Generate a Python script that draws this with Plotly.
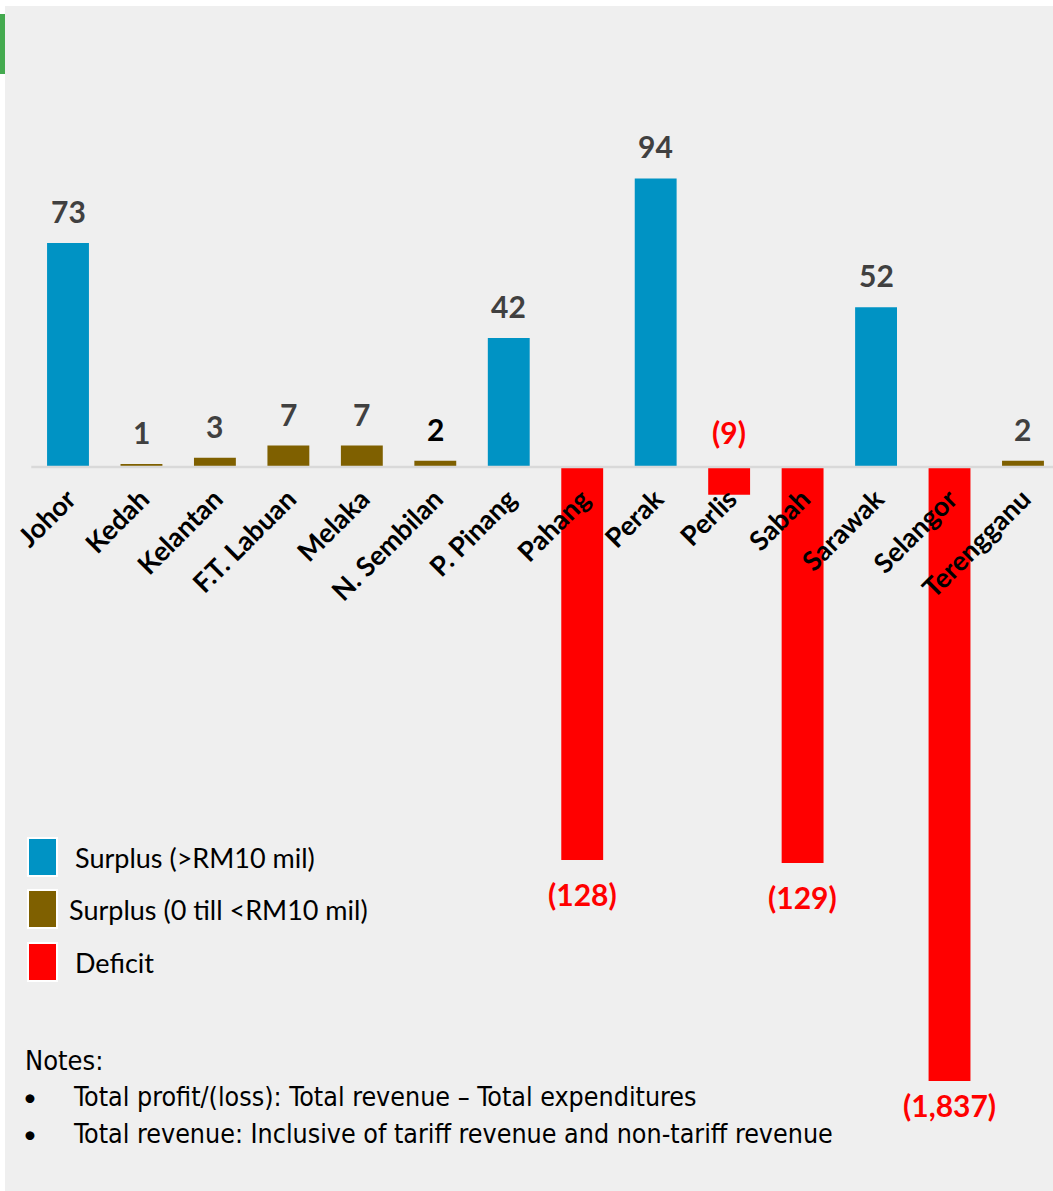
import plotly.graph_objects as go

# ---------------- data ----------------
states = ["Johor", "Kedah", "Kelantan", "F.T. Labuan", "Melaka", "N. Sembilan",
          "P. Pinang", "Pahang", "Perak", "Perlis", "Sabah", "Sarawak",
          "Selangor", "Terengganu"]
profit = [73, 1, 3, 7, 7, 2, 42, -128, 94, -9, -129, 52, -1837, 2]
value_labels = ["73", "1", "3", "7", "7", "2", "42", "(128)", "94", "(9)",
                "(129)", "52", "(1,837)", "2"]
legend_labels = ["Surplus (>RM10 mil)", "Surplus (0 till <RM10 mil)", "Deficit"]
notes_title = "Notes:"
notes = ["Total profit/(loss): Total revenue \u2013 Total expenditures",
         "Total revenue: Inclusive of tariff revenue and non-tariff revenue"]

# ---------------- style ----------------
W, H = 1053, 1191
BLUE, BROWN, RED = "#0093C4", "#7F6000", "#FF0000"
BG = "#EFEFEF"
AXIS_BREAK = -200          # very large deficits are drawn cut at the axis break
FONT = "Lato, Carlito, Calibri, sans-serif"
NARROW = "Liberation Sans Narrow, DejaVu Sans Condensed, Arial Narrow, sans-serif"


def px(x):
    return x / W


def py(y):
    return 1 - y / H


def colour(v):
    if v < 0:
        return RED
    if v > 10:
        return BLUE
    return BROWN


bar_colors = [colour(v) for v in profit]
drawn = [max(v, AXIS_BREAK) for v in profit]

fig = go.Figure()
fig.add_trace(go.Bar(x=states, y=drawn, marker=dict(color=bar_colors, line_width=0),
                     width=0.57, hoverinfo="skip", showlegend=False))

annotations = []
for s, v, d, lab in zip(states, profit, drawn, value_labels):
    if v >= 0:
        col = "#000000" if s == "N. Sembilan" else "#404040"
        annotations.append(dict(x=s, y=d, text=f"<b>{lab}</b>", showarrow=False,
                                yanchor="middle", yshift=32,
                                font=dict(family=FONT, size=30, color=col)))
    elif v > -50:
        annotations.append(dict(x=s, y=0, text=f"<b>{lab}</b>", showarrow=False,
                                yanchor="middle", yshift=35,
                                font=dict(family=FONT, size=30, color=RED)))
    else:
        shift = -24 if v < AXIS_BREAK else -34
        annotations.append(dict(x=s, y=d, text=f"<b>{lab}</b>", showarrow=False,
                                yanchor="middle", yshift=shift,
                                font=dict(family=FONT, size=30, color=RED)))

shapes = [
    dict(type="rect", xref="paper", yref="paper", x0=px(5), x1=px(W), y0=py(H), y1=py(6),
         fillcolor=BG, line_width=0, layer="below"),
    dict(type="rect", xref="paper", yref="paper", x0=px(0), x1=px(5), y0=py(74), y1=py(14),
         fillcolor="#44AA4F", line_width=0, layer="below"),
    dict(type="line", xref="x", yref="y", x0=-0.5, x1=len(states) - 0.5, y0=0, y1=0,
         line=dict(color="#D9D9D9", width=2.5), layer="above"),
]

# custom legend
leg_rows = [(838, 876, BLUE, 73), (890, 928, BROWN, 67), (943, 981, RED, 73)]
for (y0, y1, c, tx), lab in zip(leg_rows, legend_labels):
    shapes.append(dict(type="rect", xref="paper", yref="paper", x0=px(28), x1=px(57),
                       y0=py(y1), y1=py(y0), fillcolor=c,
                       line=dict(color="white", width=2), layer="above"))
    annotations.append(dict(xref="paper", yref="paper", x=px(tx), y=py((y0 + y1) / 2),
                            text=lab, showarrow=False, xanchor="left", yanchor="middle",
                            font=dict(family=FONT, size=27, color="#000000")))

# notes
annotations.append(dict(xref="paper", yref="paper", x=px(23), y=py(1060), text=notes_title,
                        showarrow=False, xanchor="left", yanchor="middle",
                        font=dict(family=NARROW, size=27, color="#000000")))
for i, n in enumerate(notes):
    yy = 1096 + i * 37
    annotations.append(dict(xref="paper", yref="paper", x=px(21), y=py(yy), text="\u2022",
                            showarrow=False, xanchor="left", yanchor="middle",
                            font=dict(family=FONT, size=24, color="#000000")))
    annotations.append(dict(xref="paper", yref="paper", x=px(71), y=py(yy), text=n,
                            showarrow=False, xanchor="left", yanchor="middle",
                            font=dict(family=NARROW, size=26.6, color="#000000")))

# axis ranges so that category centres / values sit at the picture's pixels
step = 73.46
x0 = -68 / step
x1 = x0 + W / step
k = 3.07
y_top = 467 / k
y_bot = -(H - 467) / k

fig.update_layout(
    width=W, height=H,
    margin=dict(l=0, r=0, t=0, b=0),
    paper_bgcolor="white", plot_bgcolor="rgba(0,0,0,0)",
    shapes=shapes, annotations=annotations,
    xaxis=dict(range=[x0, x1], anchor="free", position=py(467), tickangle=-45,
               tickfont=dict(family=FONT, size=27, color="#000000"),
               showline=False, showgrid=False, zeroline=False, ticks="",
               automargin=False, fixedrange=True, ticklabelstandoff=10),
    yaxis=dict(range=[y_bot, y_top], visible=False, showgrid=False, zeroline=False,
               fixedrange=True),
    showlegend=False,
)
fig.update_xaxes(tickprefix="<b>", ticksuffix="</b>")

fig.write_html("out.html", config={"displayModeBar": False},
               post_script="document.body.style.margin='0';document.body.style.overflow='hidden';")
